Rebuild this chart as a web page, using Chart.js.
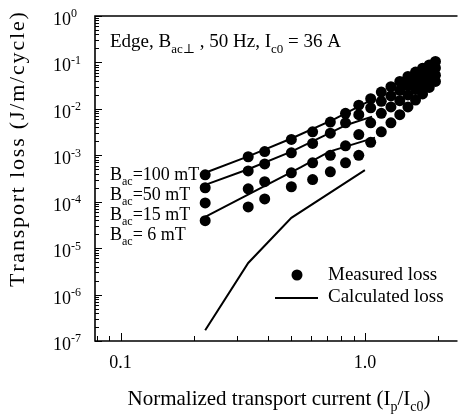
<!DOCTYPE html>
<html>
<head>
<meta charset="utf-8">
<script src="https://cdn.jsdelivr.net/npm/chart.js@4.4.0/dist/chart.umd.min.js"></script>
<style>
html, body { margin: 0; padding: 0; background: #fff; }
canvas { display: block; }
</style>
</head>
<body>
<canvas id="chart" width="463" height="417"></canvas>
<script>
// normalized transport current Ip/Ic0 for the measured points
const currents = [0.222, 0.333, 0.389, 0.5, 0.611, 0.722, 0.833, 0.944, 1.056, 1.167, 1.278, 1.389, 1.5, 1.611, 1.722, 1.833, 1.944];
// measured transport loss, J/m/cycle
const loss100 = [3.8e-4, 9.3e-4, 1.2e-3, 2.2e-3, 3.2e-3, 5.2e-3, 8.0e-3, 1.2e-2, 1.65e-2, 2.3e-2, 3.0e-2, 3.9e-2, 5.0e-2, 6.2e-2, 7.5e-2, 8.8e-2, 1.05e-1];
const loss50 = [2.0e-4, 4.6e-4, 6.5e-4, 1.13e-3, 1.8e-3, 3.0e-3, 5.0e-3, 7.5e-3, 1.05e-2, 1.45e-2, 1.9e-2, 2.5e-2, 3.2e-2, 4.0e-2, 5.0e-2, 6.2e-2, 7.6e-2];
const loss15 = [9.4e-5, 1.9e-4, 2.7e-4, 4.2e-4, 6.9e-4, 1.0e-3, 1.6e-3, 2.8e-3, 5.0e-3, 8.0e-3, 1.1e-2, 1.5e-2, 2.0e-2, 2.6e-2, 3.3e-2, 4.2e-2, 5.3e-2];
const loss6 = [3.9e-5, 7.7e-5, 1.15e-4, 2.1e-4, 3.0e-4, 4.4e-4, 6.9e-4, 1.0e-3, 1.9e-3, 3.2e-3, 5.0e-3, 7.5e-3, 1.1e-2, 1.55e-2, 2.1e-2, 2.9e-2, 3.9e-2];

// calculated loss curves
const calc100X = [0.222, 0.333, 0.5, 0.75, 1.05];
const calc100Y = [4.2e-4, 9.5e-4, 2.3e-3, 6.0e-3, 1.5e-2];
const calc50X = [0.222, 0.333, 0.5, 0.84, 1.07];
const calc50Y = [2.3e-4, 5.0e-4, 1.2e-3, 4.5e-3, 6.8e-3];
const calcLowX = [0.222, 0.55, 0.715, 1.1];
const calcLowY = [4.7e-5, 5.6e-4, 1.2e-3, 2.4e-3];
const calcSelfX = [0.222, 0.333, 0.5, 1.0];
const calcSelfY = [1.7e-7, 4.8e-6, 4.5e-5, 4.8e-4];

const fieldLabels = ['100 mT', '50 mT', '15 mT', ' 6 mT'];
const yExponents = [0, -1, -2, -3, -4, -5, -6, -7];
const xTickValues = [0.1, 1.0];
const xTickLabels = ['0.1', '1.0'];
const xMinorTicks = [0.08, 0.09, 0.2, 0.3, 0.4, 0.5, 0.6, 0.7, 0.8, 0.9, 2.0];

const serif = '"Liberation Serif", "DejaVu Serif", serif';

function pts(xs, ys) {
    return xs.map((x, i) => ({ x: x, y: ys[i] }));
}

// parts: [text, 'n' | 'b' (sub) | 'p' (sup)]
function drawRich(ctx, parts, x, y, size, align) {
    const small = Math.round(size * 0.68);
    let w = 0;
    parts.forEach(p => {
        ctx.font = (p[1] === 'n' ? size : small) + 'px ' + serif;
        w += ctx.measureText(p[0]).width;
    });
    let cx = align === 'center' ? x - w / 2 : x;
    ctx.textAlign = 'left';
    ctx.textBaseline = 'alphabetic';
    parts.forEach(p => {
        let dy = 0;
        if (p[1] === 'n') {
            ctx.font = size + 'px ' + serif;
        } else {
            ctx.font = small + 'px ' + serif;
            dy = p[1] === 'b' ? size * 0.3 : -size * 0.42;
        }
        ctx.fillText(p[0], cx, y + dy);
        cx += ctx.measureText(p[0]).width;
    });
}

function seg(ctx, x1, y1, x2, y2) {
    ctx.beginPath();
    ctx.moveTo(x1, y1);
    ctx.lineTo(x2, y2);
    ctx.stroke();
}

const decorations = {
    id: 'decorations',
    afterDraw(chart) {
        const ctx = chart.ctx;
        const xs = chart.scales.x;
        const ys = chart.scales.y;
        const a = chart.chartArea;
        ctx.save();
        ctx.strokeStyle = '#000';
        ctx.fillStyle = '#000';

        // frame: top, left, bottom
        ctx.lineWidth = 1.6;
        ctx.beginPath();
        ctx.moveTo(a.right, a.top);
        ctx.lineTo(a.left, a.top);
        ctx.lineTo(a.left, a.bottom);
        ctx.lineTo(a.right, a.bottom);
        ctx.stroke();

        // y ticks (inside)
        ctx.lineWidth = 1;
        yExponents.forEach(e => {
            for (let m = 1; m < 10; m++) {
                const v = m * Math.pow(10, e);
                if (v > 1.0001) break;
                const py = Math.round(ys.getPixelForValue(v)) + 0.5;
                seg(ctx, a.left, py, a.left + (m === 1 ? 7 : 4), py);
            }
        });
        // x ticks (inside)
        xTickValues.forEach(v => {
            const px = Math.round(xs.getPixelForValue(v)) + 0.5;
            seg(ctx, px, a.bottom, px, a.bottom - 8);
        });
        xMinorTicks.forEach(v => {
            const px = Math.round(xs.getPixelForValue(v)) + 0.5;
            seg(ctx, px, a.bottom, px, a.bottom - 5);
        });

        // y tick labels
        yExponents.forEach(e => {
            const py = ys.getPixelForValue(Math.pow(10, e));
            drawRich(ctx, [['10', 'n'], [String(e), 'p']], 53, py + 9, 18, 'left');
        });
        // x tick labels
        xTickValues.forEach((v, i) => {
            drawRich(ctx, [[xTickLabels[i], 'n']], xs.getPixelForValue(v), 368, 18, 'center');
        });

        // axis titles
        drawRich(ctx, [['Normalized transport current (I', 'n'], ['p', 'b'], ['/I', 'n'], ['c0', 'b'], [')', 'n']],
            279, 405, 21, 'center');
        // y title, spread over the full axis height like the original
        const yTitle = 'Transport loss (J/m/cycle)';
        ctx.save();
        ctx.translate(24, 150);
        ctx.rotate(-Math.PI / 2);
        ctx.font = '22px ' + serif;
        ctx.textAlign = 'left';
        ctx.textBaseline = 'alphabetic';
        const nat = ctx.measureText(yTitle).width;
        const gap = (274 - nat) / (yTitle.length - 1);
        let tx = -137;
        for (const ch of yTitle) {
            ctx.fillText(ch, tx, 0);
            tx += ctx.measureText(ch).width + gap;
        }
        ctx.restore();

        // annotation
        drawRich(ctx, [['Edge, B', 'n'], ['ac\u22a5', 'b'], [' , 50 Hz, I', 'n'], ['c0', 'b'], [' = 36 A', 'n']],
            110, 47, 19, 'left');
        fieldLabels.forEach((lab, i) => {
            drawRich(ctx, [['B', 'n'], ['ac', 'b'], ['=' + lab, 'n']], 110, 180 + i * 20, 18, 'left');
        });

        // legend
        ctx.beginPath();
        ctx.arc(297, 275, 5.5, 0, Math.PI * 2);
        ctx.fill();
        ctx.lineWidth = 2;
        seg(ctx, 275, 298, 318, 298);
        drawRich(ctx, [['Measured loss', 'n']], 328, 280, 19, 'left');
        drawRich(ctx, [['Calculated loss', 'n']], 328, 302, 19, 'left');
        ctx.restore();
    }
};

const dotStyle = { showLine: false, pointRadius: 5.5, pointBackgroundColor: '#000', pointBorderWidth: 0, borderColor: '#000' };
const lineStyle = { showLine: true, pointRadius: 0, borderColor: '#000', borderWidth: 2, tension: 0, fill: false };

const datasets = [
    Object.assign({ label: 'Calc 100 mT', data: pts(calc100X, calc100Y) }, lineStyle),
    Object.assign({ label: 'Calc 50 mT', data: pts(calc50X, calc50Y) }, lineStyle),
    Object.assign({ label: 'Calc 15/6 mT', data: pts(calcLowX, calcLowY) }, lineStyle),
    Object.assign({ label: 'Calc self field', data: pts(calcSelfX, calcSelfY) }, lineStyle),
    Object.assign({ label: 'Bac=100 mT', data: pts(currents, loss100) }, dotStyle),
    Object.assign({ label: 'Bac=50 mT', data: pts(currents, loss50) }, dotStyle),
    Object.assign({ label: 'Bac=15 mT', data: pts(currents, loss15) }, dotStyle),
    Object.assign({ label: 'Bac=6 mT', data: pts(currents, loss6) }, dotStyle)
];

new Chart(document.getElementById('chart').getContext('2d'), {
    type: 'scatter',
    data: { datasets: datasets },
    options: {
        responsive: false,
        animation: false,
        layout: { padding: { left: 95, top: 16, right: 0, bottom: 76 } },
        plugins: { legend: { display: false }, tooltip: { enabled: false } },
        scales: {
            x: { type: 'logarithmic', min: 0.0786, max: 2.393, display: false },
            y: { type: 'logarithmic', min: 1e-7, max: 1, display: false }
        }
    },
    plugins: [decorations]
});
</script>
</body>
</html>
